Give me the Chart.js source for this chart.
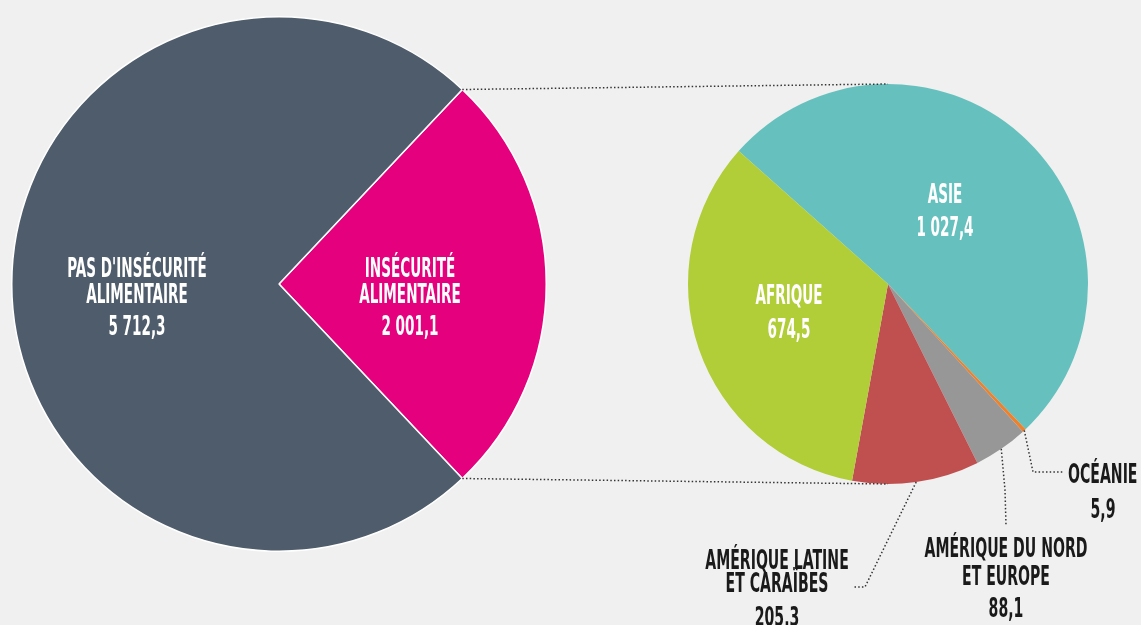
<!DOCTYPE html>
<html>
<head>
<meta charset="utf-8">
<script src="https://cdn.jsdelivr.net/npm/chart.js@4.4.1/dist/chart.umd.min.js"></script>
<style>
    html, body { margin: 0; padding: 0; background: #f0f0f0; }
    #wrap { position: relative; width: 1141px; height: 625px; overflow: hidden; }
    #wrap canvas { position: absolute; left: 0; top: 0; }
</style>
</head>
<body>
<div id="wrap">
    <canvas id="mainPie" width="1141" height="625"></canvas>
    <canvas id="detailPie" width="1141" height="625"></canvas>
</div>
<script>
// Données (millions de personnes)
const mainLabels = [['INSÉCURITÉ', 'ALIMENTAIRE'], ["PAS D'INSÉCURITÉ", 'ALIMENTAIRE']];
const mainValues = [2001.1, 5712.3];
const mainColors = ['#e5007d', '#4f5c6b'];

const regionLabels = [['ASIE'], ['OCÉANIE'], ['AMÉRIQUE DU NORD', 'ET EUROPE'], ['AMÉRIQUE LATINE', 'ET CARAÏBES'], ['AFRIQUE']];
const regionValues = [1027.4, 5.9, 88.1, 205.3, 674.5];
const regionColors = ['#66c1be', '#f0802a', '#979797', '#c0504f', '#b1cd38'];

const FONT = '"Liberation Sans Narrow", "DejaVu Sans Condensed", sans-serif';
const SX = 0.58; // compression horizontale du texte

// 5712.3 -> "5 712,3"
function fmt(v) {
    const parts = v.toFixed(1).split('.');
    const ent = parts[0].replace(/\B(?=(\d{3})+(?!\d))/g, ' ');
    return ent + ',' + parts[1];
}

function drawText(ctx, text, x, yMid, size, color, align) {
    ctx.save();
    ctx.font = 'bold ' + size + 'px ' + FONT;
    ctx.fillStyle = color;
    ctx.textAlign = align || 'center';
    ctx.textBaseline = 'alphabetic';
    ctx.translate(x, yMid + size * 0.36);
    ctx.scale(SX, 1);
    ctx.fillText(text, 0, 0);
    ctx.restore();
}

function dotted(ctx, pts) {
    ctx.save();
    ctx.strokeStyle = '#333333';
    ctx.lineWidth = 1.5;
    ctx.setLineDash([1.5, 2.2]);
    ctx.beginPath();
    ctx.moveTo(pts[0][0], pts[0][1]);
    for (let i = 1; i < pts.length; i++) ctx.lineTo(pts[i][0], pts[i][1]);
    ctx.stroke();
    ctx.restore();
}

// Emplacement des étiquettes, relatif au centre du camembert
const mainSpots = [
    { dx: 131, dy: -16.5, step: 26.5, gap: 32 },
    { dx: -142, dy: -16.5, step: 26.5, gap: 32 }
];
const regionSpots = [
    { dx: 57, dy: -90, step: 26, gap: 33, color: '#fff' },
    { dx: 180, dy: 189, step: 26, gap: 35, color: '#1a1a1a', align: 'left', vdx: 215, size: 27,
      leader: [[145, 188], [175, 188]] },
    { dx: 118, dy: 263, step: 28, gap: 32.5, color: '#1a1a1a', size: 27,
      leader: [[117, 206], [118, 241]] },
    { dx: -111, dy: 275, step: 23.5, gap: 34, color: '#1a1a1a', size: 27,
      leader: [[-23, 303], [-35, 303]] },
    { dx: -99, dy: 11, step: 26, gap: 34, color: '#fff' }
];

function drawLabels(ctx, arc, lines, value, spot) {
    const size = spot.size || 26;
    const color = spot.color || '#fff';
    const align = spot.align || 'center';
    let y = arc.y + spot.dy;
    lines.forEach(function (t, i) {
        if (i > 0) y += spot.step;
        drawText(ctx, t, arc.x + spot.dx, y, size, color, align);
    });
    const vx = spot.vdx !== undefined ? arc.x + spot.vdx : arc.x + spot.dx;
    drawText(ctx, fmt(value), vx, y + spot.gap, size, color, 'center');
}

const mainLabelPlugin = {
    id: 'mainLabels',
    afterDatasetsDraw(chart) {
        const ctx = chart.ctx;
        chart.getDatasetMeta(0).data.forEach(function (arc, i) {
            drawLabels(ctx, arc, mainLabels[i], mainValues[i], mainSpots[i]);
        });
    }
};

const mainChart = new Chart(document.getElementById('mainPie'), {
    type: 'pie',
    data: {
        labels: mainLabels.map(l => l.join(' ')),
        datasets: [{
            data: mainValues,
            backgroundColor: mainColors,
            borderColor: '#ffffff',
            borderWidth: 1.5
        }]
    },
    options: {
        responsive: false,
        animation: false,
        rotation: 43.3,
        layout: { padding: { left: 11, right: 594, top: 16, bottom: 73 } },
        plugins: { legend: { display: false }, tooltip: { enabled: false } }
    },
    plugins: [mainLabelPlugin]
});

const detailPlugin = {
    id: 'detailLabels',
    afterDatasetsDraw(chart) {
        const ctx = chart.ctx;
        const arcs = chart.getDatasetMeta(0).data;
        const c = arcs[0];

        // liaison entre le secteur "insécurité" et le détail
        const m = mainChart.getDatasetMeta(0).data[0];
        const r = m.outerRadius;
        dotted(ctx, [[m.x + r * Math.cos(m.startAngle), m.y + r * Math.sin(m.startAngle)], [c.x, c.y - c.outerRadius]]);
        dotted(ctx, [[m.x + r * Math.cos(m.endAngle), m.y + r * Math.sin(m.endAngle)], [c.x, c.y + c.outerRadius]]);

        arcs.forEach(function (arc, i) {
            const spot = regionSpots[i];
            if (spot.leader) {
                const mid = (arc.startAngle + arc.endAngle) / 2;
                const pts = [[arc.x + arc.outerRadius * Math.cos(mid), arc.y + arc.outerRadius * Math.sin(mid)]];
                spot.leader.forEach(p => pts.push([arc.x + p[0], arc.y + p[1]]));
                dotted(ctx, pts);
            }
            drawLabels(ctx, arc, regionLabels[i], regionValues[i], spot);
        });
    }
};

new Chart(document.getElementById('detailPie'), {
    type: 'pie',
    data: {
        labels: regionLabels.map(l => l.join(' ')),
        datasets: [{
            data: regionValues,
            backgroundColor: regionColors,
            borderWidth: 0
        }]
    },
    options: {
        responsive: false,
        animation: false,
        rotation: -48.3,
        layout: { padding: { left: 688, right: 53, top: 84, bottom: 141 } },
        plugins: { legend: { display: false }, tooltip: { enabled: false } }
    },
    plugins: [detailPlugin]
});
</script>
</body>
</html>
